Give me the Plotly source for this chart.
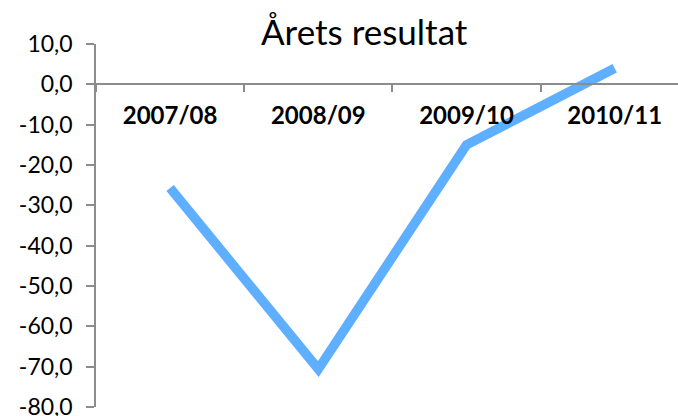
import plotly.graph_objects as go

title = "Årets resultat"
categories = ["2007/08", "2008/09", "2009/10", "2010/11"]
values = [-25.7, -70.6, -15.0, 4.0]
y_tickvals = [10, 0, -10, -20, -30, -40, -50, -60, -70, -80]
y_ticktext = ["10,0", "0,0", "-10,0", "-20,0", "-30,0", "-40,0", "-50,0", "-60,0", "-70,0", "-80,0"]

FONT = "Lato"
AXIS_GRAY = "#8c8c8c"

fig = go.Figure()
fig.add_trace(go.Scatter(
    x=categories, y=values, mode="lines",
    line=dict(color="#5eafff", width=9.5),
    showlegend=False, hoverinfo="skip",
))

y_min, y_max = -80, 10
fig.update_layout(
    width=678, height=416,
    margin=dict(l=96, r=0, t=44, b=9, autoexpand=False),
    paper_bgcolor="white", plot_bgcolor="white",
    font=dict(family=FONT, color="black"),
    xaxis=dict(
        type="category",
        range=[-0.5, 3.427],
        anchor="free",
        position=(0 - y_min) / (y_max - y_min),
        automargin=False,
        showline=True, linecolor=AXIS_GRAY, linewidth=1.5,
        ticks="outside", ticklen=7, tickcolor=AXIS_GRAY, tickwidth=1.5,
        tickson="boundaries",
        showgrid=False, zeroline=False,
        tickfont=dict(family=FONT, size=24, color="black", weight="bold"),
        ticklabelstandoff=10,
        ticklabeloverflow="allow",
    ),
    yaxis=dict(
        range=[y_min, y_max],
        automargin=False,
        tickvals=y_tickvals, ticktext=y_ticktext,
        showline=True, linecolor=AXIS_GRAY, linewidth=1.5,
        ticks="outside", ticklen=8, tickcolor=AXIS_GRAY, tickwidth=1.5,
        showgrid=False, zeroline=False,
        tickfont=dict(family=FONT, size=23, color="black"),
        ticklabelstandoff=9,
        ticklabeloverflow="allow",
    ),
)
fig.add_annotation(
    text=title, xref="paper", yref="paper",
    x=(364 - 96) / (678 - 96), y=1 + 13 / 363,
    xanchor="center", yanchor="middle", showarrow=False,
    font=dict(family=FONT, size=35, color="black"),
)

fig.write_html(
    "out.html",
    config={"displayModeBar": False},
    post_script="document.body.style.margin='0px';document.body.style.overflow='hidden';",
)
